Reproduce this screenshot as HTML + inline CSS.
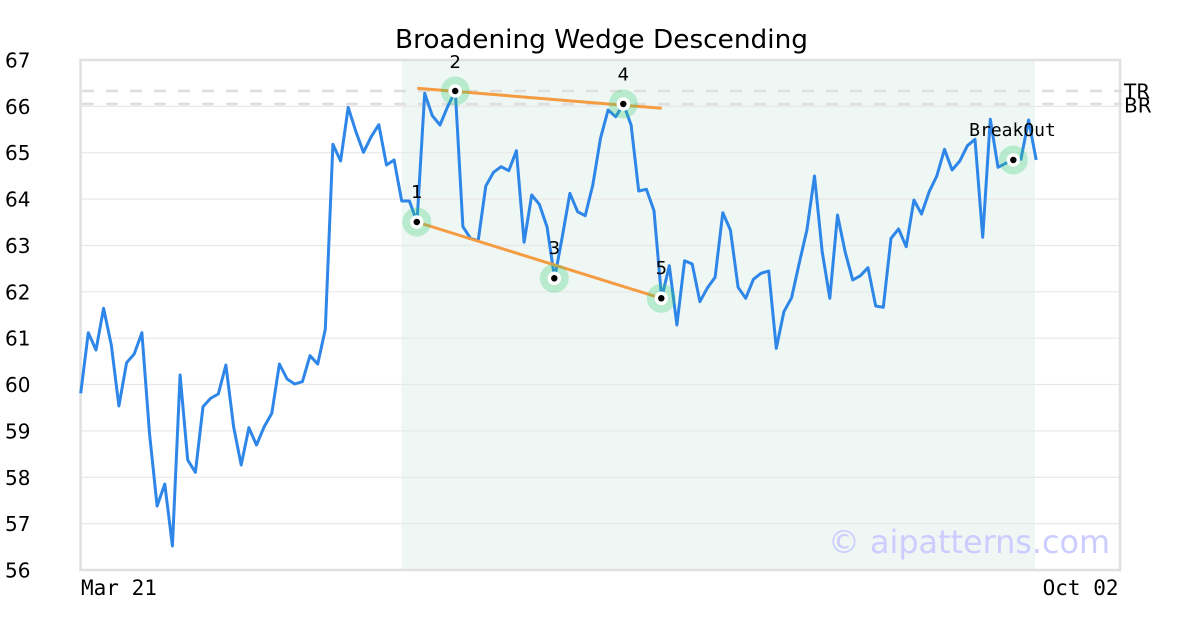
<!DOCTYPE html>
<html><head><meta charset="utf-8"><style>
html,body{margin:0;padding:0;background:#fff;}
svg{display:block;}
</style></head><body>
<svg width="1200" height="630" viewBox="0 0 1200 630" xmlns="http://www.w3.org/2000/svg">
<rect x="0" y="0" width="1200" height="630" fill="#fff"/>
<rect x="401.5" y="60" width="633.5" height="510" fill="#eef7f3"/>
<g stroke="#e8e8e8" stroke-width="1.2">
<line x1="80" y1="106.4" x2="1120" y2="106.4"/>
<line x1="80" y1="152.7" x2="1120" y2="152.7"/>
<line x1="80" y1="199.1" x2="1120" y2="199.1"/>
<line x1="80" y1="245.5" x2="1120" y2="245.5"/>
<line x1="80" y1="291.8" x2="1120" y2="291.8"/>
<line x1="80" y1="338.2" x2="1120" y2="338.2"/>
<line x1="80" y1="384.5" x2="1120" y2="384.5"/>
<line x1="80" y1="430.9" x2="1120" y2="430.9"/>
<line x1="80" y1="477.3" x2="1120" y2="477.3"/>
<line x1="80" y1="523.6" x2="1120" y2="523.6"/>
</g>
<g stroke="#dedede" stroke-width="2.5" stroke-dasharray="12,12">
<line x1="82" y1="91" x2="1122" y2="91"/>
<line x1="82" y1="104" x2="1122" y2="104"/>
</g>
<rect x="80.5" y="60" width="1039.5" height="510" fill="none" stroke="#e0e0e0" stroke-width="2.5"/>
<polyline fill="none" stroke="#2e86e8" stroke-width="3" stroke-linejoin="round" points="80.7,393.3 88.3,332.7 96.0,350 103.6,308.3 111.3,345 118.9,406 126.6,362.7 134.2,354 141.9,332.7 149.5,433.3 157.1,506 164.8,484 172.4,546 180.1,375 187.7,460 195.4,472.3 203.0,406.7 210.6,398.3 218.3,394 225.9,365 233.6,426.7 241.2,465 248.9,427.7 256.5,445 264.2,426.7 271.8,413.3 279.4,364 287.1,379 294.7,384 302.4,381.7 310.0,355.7 317.7,364 325.3,329.3 332.9,144.3 340.6,161 348.2,107.3 355.9,131.7 363.5,152.3 371.2,136.7 378.8,124.7 386.5,165 394.1,160 401.7,201 409.4,201 417.0,222 424.7,93.3 432.3,115.7 440.0,125 447.6,106.7 455.3,91 462.9,226.7 470.5,238.3 478.2,240.7 485.8,186 493.5,172.3 501.1,166.7 508.8,170.7 516.4,150.7 524.1,242.3 531.7,195 539.3,204.3 547.0,226.7 554.6,278.3 562.3,236.7 569.9,193.3 577.6,211.7 585.2,215.7 592.8,185 600.5,138.3 608.1,110 615.8,116.7 623.4,104 631.1,125 638.7,191 646.4,189.3 654.0,210.7 661.6,298.3 669.3,265.7 676.9,325 684.6,260.7 692.2,264 699.9,301.7 707.5,287.7 715.1,277.3 722.8,212.7 730.4,230 738.1,287.3 745.7,298.3 753.4,279.3 761.0,273.3 768.7,271 776.3,348.3 783.9,311.7 791.6,297.7 799.2,263.3 806.9,230 814.5,176 822.2,251.7 829.8,298.3 837.5,215 845.1,251.7 852.7,280 860.4,275.7 868.0,267.7 875.7,306 883.3,307.3 891.0,238.3 898.6,229 906.2,246.7 913.9,200 921.5,214 929.2,191.7 936.8,176 944.5,149.3 952.1,170 959.8,161 967.4,145.7 975.0,139.3 982.7,237.3 990.3,119.3 998.0,167.3 1005.6,163.3 1013.3,160 1020.9,159.3 1028.6,120 1036.2,160"/>
<g stroke="#f59b42" stroke-width="3" stroke-linecap="butt">
<line x1="417.3" y1="88.3" x2="661.7" y2="108.3"/>
<line x1="416.7" y1="222" x2="661.3" y2="298.3"/>
</g>
<g>
<circle cx="416.8" cy="222" r="14.5" fill="rgba(46,204,113,0.28)"/>
<circle cx="455.2" cy="91" r="14.5" fill="rgba(46,204,113,0.28)"/>
<circle cx="554.3" cy="278.3" r="14.5" fill="rgba(46,204,113,0.28)"/>
<circle cx="623.3" cy="104" r="14.5" fill="rgba(46,204,113,0.28)"/>
<circle cx="661.3" cy="298.3" r="14.5" fill="rgba(46,204,113,0.28)"/>
<circle cx="1013.3" cy="160" r="14.5" fill="rgba(46,204,113,0.28)"/>
</g>
<g fill="#000" stroke="#fff" stroke-width="3.5">
<circle cx="416.8" cy="222" r="5"/>
<circle cx="455.2" cy="91" r="5"/>
<circle cx="554.3" cy="278.3" r="5"/>
<circle cx="623.3" cy="104" r="5"/>
<circle cx="661.3" cy="298.3" r="5"/>
<circle cx="1013.3" cy="160" r="5"/>
</g>
<g font-family="'DejaVu Sans','Liberation Sans',sans-serif" font-size="18" fill="#000" text-anchor="middle">
<text x="416.8" y="198">1</text>
<text x="455.2" y="68">2</text>
<text x="554.3" y="254">3</text>
<text x="623.3" y="80.5">4</text>
<text x="661.3" y="274">5</text>
</g>
<text x="1012.5" y="136" font-family="'DejaVu Sans Mono','Liberation Mono',monospace" font-size="18" text-anchor="middle" fill="#000">BreakOut</text>
<g font-family="'DejaVu Sans','Liberation Sans',sans-serif" font-size="20" fill="#000">
<text x="1124" y="98.5">TR</text>
<text x="1124" y="112.5">BR</text>
</g>
<text x="601.5" y="48" font-family="'DejaVu Sans','Liberation Sans',sans-serif" font-size="26" text-anchor="middle" fill="#000" textLength="413" lengthAdjust="spacingAndGlyphs">Broadening Wedge Descending</text>
<g font-family="'DejaVu Sans','Liberation Sans',sans-serif" font-size="20" fill="#000" text-anchor="end">
<text x="30.5" y="67.5">67</text>
<text x="30.5" y="113.9">66</text>
<text x="30.5" y="160.2">65</text>
<text x="30.5" y="206.6">64</text>
<text x="30.5" y="253">63</text>
<text x="30.5" y="299.3">62</text>
<text x="30.5" y="345.7">61</text>
<text x="30.5" y="392">60</text>
<text x="30.5" y="438.4">59</text>
<text x="30.5" y="484.8">58</text>
<text x="30.5" y="531.1">57</text>
<text x="30.5" y="577.5">56</text>
</g>
<g font-family="'DejaVu Sans Mono','Liberation Mono',monospace" font-size="21" fill="#000">
<text x="81" y="595">Mar 21</text>
<text x="1118.5" y="595" text-anchor="end">Oct 02</text>
</g>
<text x="828" y="553" font-family="'DejaVu Sans','Liberation Sans',sans-serif" font-size="32" fill="#ccccff" textLength="282" lengthAdjust="spacingAndGlyphs">© aipatterns.com</text>
</svg>
</body></html>
